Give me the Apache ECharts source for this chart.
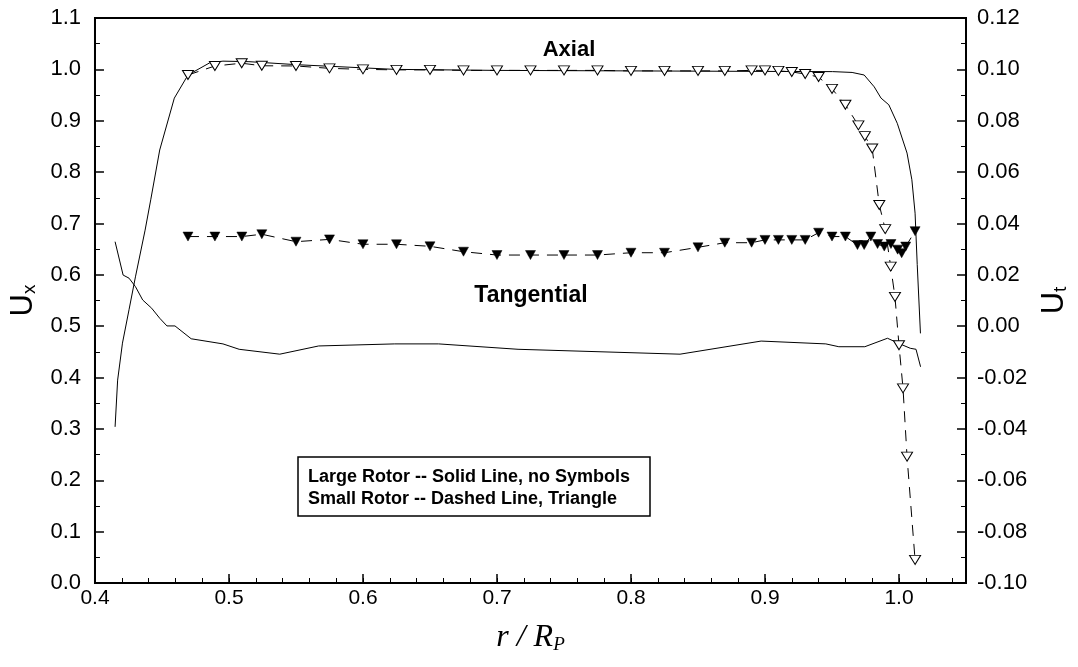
<!DOCTYPE html>
<html>
<head>
<meta charset="utf-8">
<script src="https://cdn.jsdelivr.net/npm/echarts@6/dist/echarts.min.js"></script>
<style>
  html, body { margin: 0; padding: 0; background: #ffffff; }
  #chart { width: 1078px; height: 667px; }
</style>
</head>
<body>
<div id="chart"></div>
<script>
// Large rotor, axial velocity: [r/Rp, Ux]
const largeAxial = [
  [0.4150, 0.304], [0.4169, 0.395], [0.4205, 0.467], [0.4254, 0.532], [0.4302, 0.596],
  [0.4374, 0.687], [0.4416, 0.746], [0.4483, 0.843], [0.4592, 0.944], [0.4694, 0.989],
  [0.4858, 1.013], [0.4955, 1.016], [0.5149, 1.015], [0.5512, 1.009], [0.6237, 1.000],
  [0.7000, 0.998], [0.8000, 0.997], [0.9000, 0.996], [0.9505, 0.9956], [0.9650, 0.994],
  [0.9740, 0.989], [0.9815, 0.966], [0.9866, 0.944], [0.9924, 0.931], [0.9987, 0.895],
  [1.0060, 0.837], [1.0096, 0.785], [1.0120, 0.720], [1.0136, 0.620], [1.0160, 0.486]
];

// Large rotor, tangential velocity: [r/Rp, Ut]
const largeTangential = [
  [0.4150, 0.0329], [0.4210, 0.0199], [0.4254, 0.0187], [0.4302, 0.0154], [0.4356, 0.0102],
  [0.4423, 0.0070], [0.4483, 0.0031], [0.4537, 0.0001], [0.4597, 0.0001], [0.4718, -0.0049],
  [0.4955, -0.0069], [0.5076, -0.0090], [0.5379, -0.0109], [0.5669, -0.0077], [0.6237, -0.0069],
  [0.6564, -0.0069], [0.7157, -0.0090], [0.8366, -0.0109], [0.8971, -0.0058], [0.9454, -0.0069],
  [0.9551, -0.0080], [0.9745, -0.0080], [0.9914, -0.0047], [0.9998, -0.0067], [1.0084, -0.0086],
  [1.0127, -0.0090], [1.0161, -0.0158]
];

// Small rotor, axial velocity: [r/Rp, Ux]
const smallAxial = [
  [0.4694, 0.989], [0.4895, 1.0066], [0.5095, 1.012], [0.5245, 1.007], [0.5500, 1.0066],
  [0.5750, 1.002], [0.6000, 1.000], [0.6250, 0.999], [0.6500, 0.999], [0.6750, 0.998],
  [0.7000, 0.998], [0.7250, 0.998], [0.7500, 0.998], [0.7750, 0.998], [0.8000, 0.997],
  [0.8250, 0.997], [0.8500, 0.997], [0.8700, 0.997], [0.8900, 0.998], [0.9000, 0.998],
  [0.9100, 0.997], [0.9200, 0.995], [0.9300, 0.991], [0.9400, 0.985], [0.9500, 0.962],
  [0.9600, 0.931], [0.9697, 0.891], [0.9745, 0.870], [0.9800, 0.846], [0.9853, 0.736],
  [0.9897, 0.689], [0.9938, 0.616], [0.9970, 0.557], [1.0000, 0.463], [1.0030, 0.379],
  [1.0060, 0.246], [1.0120, 0.045]
];

// Small rotor, tangential velocity: [r/Rp, Ut]
const smallTangential = [
  [0.4694, 0.0349], [0.4895, 0.0349], [0.5096, 0.0349], [0.5245, 0.0358], [0.5500, 0.0329],
  [0.5750, 0.0338], [0.6000, 0.0319], [0.6250, 0.0319], [0.6500, 0.0311], [0.6750, 0.0290],
  [0.7000, 0.0277], [0.7250, 0.0277], [0.7500, 0.0277], [0.7750, 0.0277], [0.8000, 0.0286],
  [0.8250, 0.0286], [0.8500, 0.0307], [0.8700, 0.0325], [0.8900, 0.0325], [0.9000, 0.0336],
  [0.9100, 0.0336], [0.9200, 0.0336], [0.9300, 0.0336], [0.9400, 0.0364], [0.9500, 0.0349],
  [0.9600, 0.0349], [0.9690, 0.0316], [0.9740, 0.0316], [0.9790, 0.0349], [0.9840, 0.0320],
  [0.9890, 0.0310], [0.9940, 0.0320], [0.9990, 0.0298], [1.0020, 0.0284], [1.0050, 0.0310],
  [1.0120, 0.0370]
];

// Annotation texts
const curveLabels = ['Axial', 'Tangential'];
const keyLines = [
  'Large Rotor -- Solid Line, no Symbols',
  'Small Rotor -- Dashed Line, Triangle'
];

const SANS = '"Liberation Sans", Arial, sans-serif';
const SERIF = '"Liberation Serif", "Times New Roman", serif';
const BLACK = '#000000';

const chart = echarts.init(document.getElementById('chart'), null, { renderer: 'canvas' });

const tickStyle = { color: BLACK, width: 1.5 };
const minorStyle = { color: BLACK, width: 1 };

const option = {
  animation: false,
  backgroundColor: '#ffffff',
  grid: {
    left: 92, right: 91, top: 18, bottom: 84,
    show: true, borderColor: BLACK, borderWidth: 2, backgroundColor: 'transparent'
  },
  xAxis: [
    {
      type: 'value', min: 0.4, max: 1.05, interval: 0.1, position: 'bottom',
      axisLine: { show: true, onZero: false, lineStyle: { color: BLACK, width: 2 } },
      axisTick: { show: true, inside: true, length: 9, lineStyle: tickStyle },
      axisLabel: {
        color: BLACK, fontFamily: SANS, fontSize: 21, margin: 5,
        formatter: v => (v > 1.04 ? '' : v.toFixed(1))
      },
      splitLine: { show: false },
      name: '{a|r / R}{b|P}',
      nameLocation: 'middle', nameGap: 39,
      nameTextStyle: {
        rich: {
          a: { fontFamily: SERIF, fontStyle: 'italic', fontSize: 32, color: BLACK, lineHeight: 32 },
          b: { fontFamily: SERIF, fontStyle: 'italic', fontSize: 19, color: BLACK, lineHeight: 8, verticalAlign: 'bottom' }
        }
      }
    },
    {
      // finer ticks every 0.02 along the bottom edge
      type: 'value', min: 0.4, max: 1.05, interval: 0.02, position: 'bottom',
      axisLine: { show: false },
      axisTick: { show: true, inside: true, length: 5, lineStyle: minorStyle },
      axisLabel: { show: false },
      splitLine: { show: false }
    }
  ],
  yAxis: [
    {
      type: 'value', min: 0, max: 1.1, interval: 0.1, position: 'left',
      axisLine: { show: true, onZero: false, lineStyle: { color: BLACK, width: 2 } },
      axisTick: { show: true, inside: true, length: 9, lineStyle: tickStyle },
      minorTick: { show: true, splitNumber: 2, length: 5, lineStyle: minorStyle },
      axisLabel: { color: BLACK, fontFamily: SANS, fontSize: 22, margin: 14, formatter: v => v.toFixed(1) },
      splitLine: { show: false },
      name: '{a|U}{b|x}',
      nameLocation: 'middle', nameRotate: 90, nameGap: 50,
      nameTextStyle: {
        rich: {
          a: { fontFamily: SANS, fontSize: 31, color: BLACK, lineHeight: 32 },
          b: { fontFamily: SANS, fontSize: 19, color: BLACK, lineHeight: 8, verticalAlign: 'bottom' }
        }
      }
    },
    {
      type: 'value', min: -0.1, max: 0.12, interval: 0.02, position: 'right',
      axisLine: { show: true, onZero: false, lineStyle: { color: BLACK, width: 2 } },
      axisTick: { show: true, inside: true, length: 9, lineStyle: tickStyle },
      minorTick: { show: true, splitNumber: 2, length: 5, lineStyle: minorStyle },
      axisLabel: {
        color: BLACK, fontFamily: SANS, fontSize: 22, margin: 11,
        formatter: v => (Math.abs(v) < 1e-9 ? '0.00' : v.toFixed(2))
      },
      splitLine: { show: false },
      name: '{a|U}{b|t}',
      nameLocation: 'middle', nameRotate: 90, nameGap: 72,
      nameTextStyle: {
        rich: {
          a: { fontFamily: SANS, fontSize: 31, color: BLACK, lineHeight: 32 },
          b: { fontFamily: SANS, fontSize: 19, color: BLACK, lineHeight: 8, verticalAlign: 'bottom' }
        }
      }
    }
  ],
  series: [
    {
      name: 'Large Rotor Axial', type: 'line', xAxisIndex: 0, yAxisIndex: 0,
      data: largeAxial, symbol: 'none', showSymbol: false,
      lineStyle: { color: BLACK, width: 1 }, z: 2
    },
    {
      name: 'Large Rotor Tangential', type: 'line', xAxisIndex: 0, yAxisIndex: 1,
      data: largeTangential, symbol: 'none', showSymbol: false,
      lineStyle: { color: BLACK, width: 1 }, z: 2
    },
    {
      name: 'Small Rotor Axial', type: 'line', xAxisIndex: 0, yAxisIndex: 0,
      data: smallAxial, symbol: 'triangle', symbolSize: [11, 9], symbolRotate: 180,
      showAllSymbol: true,
      itemStyle: { color: '#ffffff', borderColor: BLACK, borderWidth: 1 },
      lineStyle: { color: BLACK, width: 1, type: [11, 8] }, z: 3
    },
    {
      name: 'Small Rotor Tangential', type: 'line', xAxisIndex: 0, yAxisIndex: 1,
      data: smallTangential, symbol: 'triangle', symbolSize: [10, 9], symbolRotate: 180,
      showAllSymbol: true,
      itemStyle: { color: BLACK, borderColor: BLACK, borderWidth: 0.5 },
      lineStyle: { color: BLACK, width: 1, type: [11, 8] }, z: 3
    }
  ],
  graphic: [
    {
      type: 'text', x: 569, y: 50, z: 10,
      style: { text: curveLabels[0], font: 'bold 22px ' + SANS, fill: BLACK, align: 'center', verticalAlign: 'middle' }
    },
    {
      type: 'text', x: 531, y: 296, z: 10,
      style: { text: curveLabels[1], font: 'bold 23px ' + SANS, fill: BLACK, align: 'center', verticalAlign: 'middle' }
    },
    {
      type: 'group', x: 298, y: 457, z: 10,
      children: [
        { type: 'rect', shape: { x: 0, y: 0, width: 352, height: 59 }, style: { fill: '#ffffff', stroke: BLACK, lineWidth: 1.5 } },
        { type: 'text', x: 10, y: 20, style: { text: keyLines[0], font: 'bold 18px ' + SANS, fill: BLACK, align: 'left', verticalAlign: 'middle' } },
        { type: 'text', x: 10, y: 42, style: { text: keyLines[1], font: 'bold 18px ' + SANS, fill: BLACK, align: 'left', verticalAlign: 'middle' } }
      ]
    }
  ]
};

chart.setOption(option);
</script>
</body>
</html>
